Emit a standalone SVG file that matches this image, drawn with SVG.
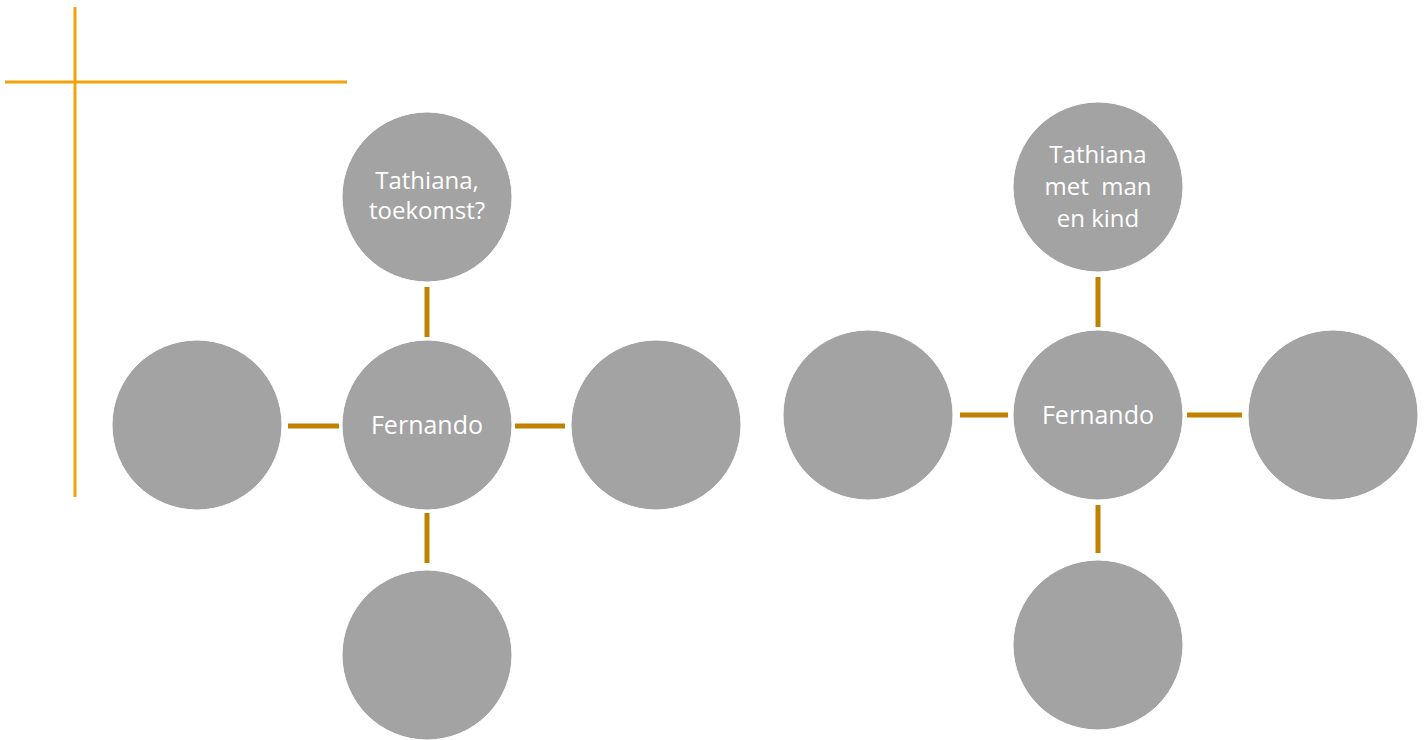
<svg xmlns="http://www.w3.org/2000/svg" width="1424" height="740" viewBox="0 0 1424 740">
<style>
.n{fill:#a3a3a3;stroke:#ffffff;stroke-width:1}
.t{font-family:"Open Sans","Noto Sans",sans-serif;font-size:24px;fill:#ffffff;text-anchor:middle}
.f{font-size:25px}
.c{stroke:#c08100;stroke-width:5;fill:none}
.d{stroke:#f0a30a;stroke-width:3;fill:none}
</style>
<rect width="1424" height="740" fill="#ffffff"/>
<g id="decor">
<line class="d" x1="75" y1="7" x2="75" y2="497"/>
<line class="d" x1="5" y1="82" x2="347" y2="82"/>
</g>
<g id="connectors">
<line class="c" x1="427" y1="287" x2="427" y2="337"/>
<line class="c" x1="288" y1="426" x2="339" y2="426"/>
<line class="c" x1="515" y1="426" x2="565" y2="426"/>
<line class="c" x1="427" y1="513" x2="427" y2="563"/>
<line class="c" x1="1098" y1="277" x2="1098" y2="327"/>
<line class="c" x1="960" y1="415" x2="1008" y2="415"/>
<line class="c" x1="1187" y1="415" x2="1242" y2="415"/>
<line class="c" x1="1098" y1="505" x2="1098" y2="553"/>
</g>
<g id="l-center"><circle class="n" cx="427" cy="425" r="85"/><text class="t f" x="427" y="434">Fernando</text></g>
<g id="l-top"><circle class="n" cx="427" cy="197" r="85"/><text class="t" x="427" y="189">Tathiana,</text><text class="t" x="427" y="219">toekomst?</text></g>
<g id="l-left"><circle class="n" cx="197" cy="425" r="85"/></g>
<g id="l-right"><circle class="n" cx="656" cy="425" r="85"/></g>
<g id="l-bottom"><circle class="n" cx="427" cy="655" r="85"/></g>
<g id="r-center"><circle class="n" cx="1098" cy="415" r="85"/><text class="t f" x="1098" y="424">Fernando</text></g>
<g id="r-top"><circle class="n" cx="1098" cy="187" r="85"/><text class="t" x="1098" y="163">Tathiana</text><text class="t" x="1098" y="195" xml:space="preserve">met  man</text><text class="t" x="1098" y="227">en kind</text></g>
<g id="r-left"><circle class="n" cx="868" cy="415" r="85"/></g>
<g id="r-right"><circle class="n" cx="1333" cy="415" r="85"/></g>
<g id="r-bottom"><circle class="n" cx="1098" cy="645" r="85"/></g>
</svg>
